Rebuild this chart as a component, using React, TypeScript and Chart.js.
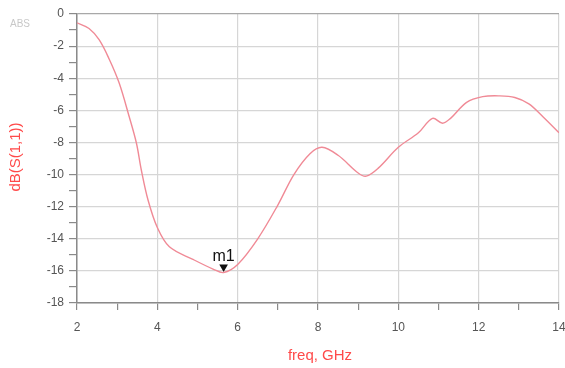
import React, { useEffect, useRef } from "react";
import { Chart, registerables } from "chart.js";

Chart.register(...registerables);

const freqs = [2, 2.3, 2.55, 2.8, 3.05, 3.3, 3.48, 3.6, 3.77, 4, 4.3, 4.9, 5.4, 5.65, 6, 6.5, 7, 7.4, 7.8, 8.1, 8.5, 9, 9.2, 9.5, 10, 10.5, 10.85, 11.1, 11.3, 11.7, 12.1, 12.5, 12.9, 13.25, 13.6, 14];
const s11 = [-0.55, -0.9, -1.6, -2.8, -4.3, -6.4, -8.05, -9.7, -11.6, -13.3, -14.5, -15.3, -15.9, -16.1, -15.6, -14.0, -11.9, -10.0, -8.7, -8.3, -8.8, -9.9, -10.1, -9.6, -8.3, -7.4, -6.5, -6.8, -6.5, -5.5, -5.15, -5.1, -5.2, -5.6, -6.4, -7.4];
const markerFreq = [5.65];
const markerVal = [-16.1];
const markerLabel = "m1";
const xTitle = "freq, GHz";
const yTitle = "dB(S(1,1))";
const cornerText = "ABS";

export default function App() {
  const ref = useRef<HTMLCanvasElement>(null);
  useEffect(() => {
    const canvas = ref.current!;
    const labelsPlugin = {
      id: "labelsPlugin",
      afterDraw(chart: any) {
        const ctx = chart.ctx;
        const xs = chart.scales.x;
        const ys = chart.scales.y;
        ctx.save();
        ctx.font = "15px 'Liberation Sans', Arial, sans-serif";
        ctx.fillStyle = "#ff4a4a";
        ctx.textAlign = "center";
        ctx.textBaseline = "middle";
        ctx.fillText(xTitle, 320, 356);
        ctx.translate(16, 157);
        ctx.rotate(-Math.PI / 2);
        ctx.fillText(yTitle, 0, 0);
        ctx.restore();
        ctx.save();
        ctx.font = "10px 'Liberation Sans', Arial, sans-serif";
        ctx.fillStyle = "#c8c8c8";
        ctx.textAlign = "center";
        ctx.textBaseline = "middle";
        ctx.fillText(cornerText, 20, 24);
        ctx.font = "16px 'Liberation Sans', Arial, sans-serif";
        ctx.fillStyle = "#111";
        ctx.textBaseline = "alphabetic";
        ctx.fillText(markerLabel, xs.getPixelForValue(markerFreq[0]), ys.getPixelForValue(markerVal[0]) - 11);
        ctx.restore();
      },
    };
    const chart = new Chart(canvas, {
      type: "line",
      data: {
        datasets: [
          {
            data: freqs.map((f, i) => ({ x: f, y: s11[i] })),
            borderColor: "#f08a96",
            borderWidth: 1.4,
            pointRadius: 0,
            tension: 0.35,
          },
          {
            data: markerFreq.map((f, i) => ({ x: f, y: markerVal[i] + 0.35 })),
            showLine: false,
            pointStyle: "triangle",
            rotation: 180,
            pointRadius: 5,
            backgroundColor: "#111",
            borderColor: "#111",
            borderWidth: 0,
          },
        ],
      },
      options: {
        responsive: false,
        animation: false,
        layout: { padding: { top: 14, right: 6, left: 0, bottom: 0 } },
        plugins: { legend: { display: false }, tooltip: { enabled: false } },
        scales: {
          x: {
            type: "linear",
            min: 2,
            max: 14,
            afterFit: (s: any) => { s.height = 65; s.paddingRight = 0; s.paddingLeft = 0; },
            ticks: {
              stepSize: 1,
              autoSkip: false,
              maxRotation: 0,
              color: "#555",
              font: { family: "'Liberation Sans', Arial, sans-serif", size: 12 },
              padding: 10,
              callback: (v: any) => (Number(v) % 2 === 0 ? String(v) : ""),
            },
            grid: {
              color: (c: any) => (c.tick && c.tick.value % 2 === 0 ? "#d6d6d6" : "rgba(0,0,0,0)"),
              tickColor: "#8a8a8a",
              tickLength: 7,
              lineWidth: 1.2,
            },
            border: { color: "#8a8a8a", width: 1.5 },
          },
          y: {
            min: -18,
            max: 0,
            afterFit: (s: any) => { s.width = 77; },
            ticks: {
              stepSize: 1,
              autoSkip: false,
              color: "#555",
              font: { family: "'Liberation Sans', Arial, sans-serif", size: 12 },
              padding: 5,
              callback: (v: any) => (Number(v) % 2 === 0 ? String(v) : ""),
            },
            grid: {
              color: (c: any) => (c.tick && c.tick.value % 2 === 0 ? (c.tick.value === 0 ? "#a8a8a8" : "#d6d6d6") : "rgba(0,0,0,0)"),
              tickColor: "#8a8a8a",
              tickLength: 8,
              lineWidth: 1.2,
            },
            border: { color: "#8a8a8a", width: 1.5 },
          },
        },
      },
      plugins: [labelsPlugin],
    } as any);
    return () => chart.destroy();
  }, []);
  return (
    <div style={{ position: "absolute", left: 0, top: 0, width: 565, height: 368, background: "#fff" }}>
      <canvas ref={ref} width={565} height={368} />
    </div>
  );
}
